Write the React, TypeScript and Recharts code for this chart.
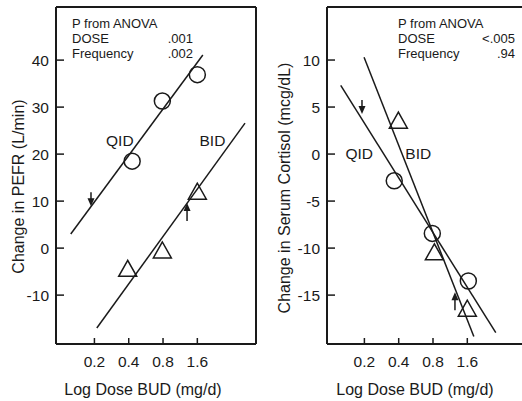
import React from "react";
import { ComposedChart, Line, Scatter, XAxis, YAxis, ReferenceLine } from "recharts";

// x is in doublings of dose above 0.2 mg/d (log scale: 0.2, 0.4, 0.8, 1.6)
const doseTicks = [0, 1, 2, 3];
const doseLabels = ["0.2", "0.4", "0.8", "1.6"];

// Left panel: PEFR
const pefrTicks = [-10, 0, 10, 20, 30, 40];
const pefrQidPoints = [
  { x: 1.1, y: 18.5 },
  { x: 1.98, y: 31.3 },
  { x: 3.0, y: 36.9 },
];
const pefrBidPoints = [
  { x: 0.97, y: -4.5 },
  { x: 1.98, y: -0.6 },
  { x: 3.0, y: 11.9 },
];
const pefrQidFit = [
  { x: -0.69, y: 3.0 },
  { x: 3.16, y: 41.1 },
];
const pefrBidFit = [
  { x: 0.07, y: -17.0 },
  { x: 4.39, y: 26.6 },
];
const pefrDownArrows = [{ x: -0.1, y: 8.9 }];
const pefrUpArrows = [{ x: 2.7, y: 9.6 }];
const pefrLabels = [
  { x: 0.74, y: 22.8, text: "QID" },
  { x: 3.44, y: 22.8, text: "BID" },
];

// Right panel: serum cortisol
const cortTicks = [-15, -10, -5, 0, 5, 10];
const cortQidPoints = [
  { x: 0.87, y: -2.84 },
  { x: 1.98, y: -8.44 },
  { x: 3.03, y: -13.5 },
];
const cortBidPoints = [
  { x: 0.99, y: 3.5 },
  { x: 2.04, y: -10.5 },
  { x: 3.0, y: -16.5 },
];
const cortQidFit = [
  { x: -0.69, y: 7.3 },
  { x: 3.83, y: -19.0 },
];
const cortBidFit = [
  { x: -0.01, y: 10.3 },
  { x: 3.19, y: -19.4 },
];
const cortDownArrows = [{ x: -0.07, y: 4.25 }];
const cortUpArrows = [{ x: 2.64, y: -14.7 }];
const cortLabels = [
  { x: -0.15, y: 0.05, text: "QID" },
  { x: 1.57, y: 0.05, text: "BID" },
];

const FONT = '"Liberation Sans", Arial, Helvetica, sans-serif';
const INK = "#1a1a1a";

const Circle = (p: any) => <circle cx={p.cx} cy={p.cy} r={8} fill="none" stroke={INK} strokeWidth={1.5} />;

const Triangle = (p: any) => {
  const { cx, cy } = p;
  return (
    <polygon
      points={`${cx},${cy - 9} ${cx - 9},${cy + 7} ${cx + 9},${cy + 7}`}
      fill="none"
      stroke={INK}
      strokeWidth={1.5}
    />
  );
};

const DownArrow = (p: any) => {
  const { cx, cy } = p;
  return (
    <g>
      <line x1={cx} y1={cy - 14} x2={cx} y2={cy - 5} stroke={INK} strokeWidth={1.5} />
      <polygon points={`${cx},${cy} ${cx - 3.5},${cy - 8} ${cx + 3.5},${cy - 8}`} fill={INK} />
    </g>
  );
};

const UpArrow = (p: any) => {
  const { cx, cy } = p;
  return (
    <g>
      <line x1={cx} y1={cy + 18} x2={cx} y2={cy + 5} stroke={INK} strokeWidth={1.5} />
      <polygon points={`${cx},${cy} ${cx - 3.5},${cy + 8} ${cx + 3.5},${cy + 8}`} fill={INK} />
    </g>
  );
};

const LabelShape = (p: any) => (
  <text x={p.cx} y={p.cy + 5.5} textAnchor="middle" fontSize={15.5} fontFamily={FONT} fill={INK}>
    {p.payload.text}
  </text>
);

const YTick = (p: any) => (
  <g>
    <line x1={p.x} x2={p.x + 8} y1={p.y} y2={p.y} stroke={INK} strokeWidth={1.5} />
    <text x={p.x - 7} y={p.y + 5.5} textAnchor="end" fontSize={15.5} fontFamily={FONT} fill={INK}>
      {p.payload.value}
    </text>
  </g>
);

const XTick = (p: any) => (
  <g>
    <line x1={p.x} x2={p.x} y1={p.y} y2={p.y - 6} stroke={INK} strokeWidth={1.5} />
    <text x={p.x} y={p.y + 23} textAnchor="middle" fontSize={15.5} fontFamily={FONT} fill={INK}>
      {doseLabels[doseTicks.indexOf(p.payload.value)]}
    </text>
  </g>
);

type PanelProps = {
  width: number;
  yAxisWidth: number;
  xDomain: [number, number];
  yDomain: [number, number];
  yTicks: number[];
  qidPts: { x: number; y: number }[];
  bidPts: { x: number; y: number }[];
  qidFit: { x: number; y: number }[];
  bidFit: { x: number; y: number }[];
  down: { x: number; y: number }[];
  up: { x: number; y: number }[];
  labels: { x: number; y: number; text: string }[];
  rightBorder: boolean;
};

function Panel(props: PanelProps) {
  const { xDomain, yDomain } = props;
  return (
    <ComposedChart width={props.width} height={401} margin={{ top: 7, right: 5, left: 0, bottom: 0 }}>
      <XAxis
        type="number"
        dataKey="x"
        domain={xDomain}
        allowDataOverflow
        ticks={doseTicks}
        interval={0}
        height={57}
        tickSize={0}
        tickMargin={0}
        tickLine={false}
        tick={<XTick />}
        axisLine={{ stroke: INK, strokeWidth: 2 }}
      />
      <YAxis
        type="number"
        dataKey="y"
        domain={yDomain}
        allowDataOverflow
        ticks={props.yTicks}
        interval={0}
        width={props.yAxisWidth}
        tickSize={0}
        tickMargin={0}
        tickLine={false}
        tick={<YTick />}
        axisLine={{ stroke: INK, strokeWidth: 2 }}
      />
      <ReferenceLine y={yDomain[1]} stroke={INK} strokeWidth={2} />
      {props.rightBorder && <ReferenceLine x={xDomain[1]} stroke={INK} strokeWidth={2} />}
      <Line data={props.qidFit} dataKey="y" stroke={INK} strokeWidth={1.5} dot={false} isAnimationActive={false} />
      <Line data={props.bidFit} dataKey="y" stroke={INK} strokeWidth={1.5} dot={false} isAnimationActive={false} />
      <Scatter data={props.qidPts} shape={Circle} isAnimationActive={false} />
      <Scatter data={props.bidPts} shape={Triangle} isAnimationActive={false} />
      <Scatter data={props.down} shape={DownArrow} isAnimationActive={false} />
      <Scatter data={props.up} shape={UpArrow} isAnimationActive={false} />
      <Scatter data={props.labels} shape={LabelShape} isAnimationActive={false} />
    </ComposedChart>
  );
}

export default function App() {
  return (
    <div style={{ position: "absolute", left: 0, top: 0, width: 522, height: 401, overflow: "hidden", background: "#fff" }}>
      <div style={{ position: "absolute", left: 0, top: 0 }}>
        <Panel
          width={261}
          yAxisWidth={56}
          xDomain={[-1.12, 4.71]}
          yDomain={[-20.4, 51.3]}
          yTicks={pefrTicks}
          qidPts={pefrQidPoints}
          bidPts={pefrBidPoints}
          qidFit={pefrQidFit}
          bidFit={pefrBidFit}
          down={pefrDownArrows}
          up={pefrUpArrows}
          labels={pefrLabels}
          rightBorder
        />
      </div>
      <div style={{ position: "absolute", left: 261, top: 0 }}>
        <Panel
          width={271}
          yAxisWidth={66}
          xDomain={[-1.09, 4.74]}
          yDomain={[-20.2, 15.64]}
          yTicks={cortTicks}
          qidPts={cortQidPoints}
          bidPts={cortBidPoints}
          qidFit={cortQidFit}
          bidFit={cortBidFit}
          down={cortDownArrows}
          up={cortUpArrows}
          labels={cortLabels}
          rightBorder={false}
        />
      </div>
      <svg width={522} height={401} style={{ position: "absolute", left: 0, top: 0, pointerEvents: "none" }}>
        <g fontFamily={FONT} fill={INK} fontSize={13}>
          <text x={72} y={28}>P from ANOVA</text>
          <text x={72} y={43}>DOSE</text>
          <text x={193} y={43} textAnchor="end">.001</text>
          <text x={72} y={58}>Frequency</text>
          <text x={193} y={58} textAnchor="end">.002</text>
          <text x={398} y={28}>P from ANOVA</text>
          <text x={398} y={43}>DOSE</text>
          <text x={515} y={43} textAnchor="end">&lt;.005</text>
          <text x={398} y={58}>Frequency</text>
          <text x={515} y={58} textAnchor="end">.94</text>
        </g>
        <g fontFamily={FONT} fill={INK} fontSize={16} textAnchor="middle">
          <text x={143} y={395}>Log Dose BUD (mg/d)</text>
          <text x={415} y={395}>Log Dose BUD (mg/d)</text>
          <text transform="translate(24,186.5) rotate(-90)">Change in PEFR (L/min)</text>
          <text transform="translate(290,188) rotate(-90)">Change in Serum Cortisol (mcg/dL)</text>
        </g>
      </svg>
    </div>
  );
}
